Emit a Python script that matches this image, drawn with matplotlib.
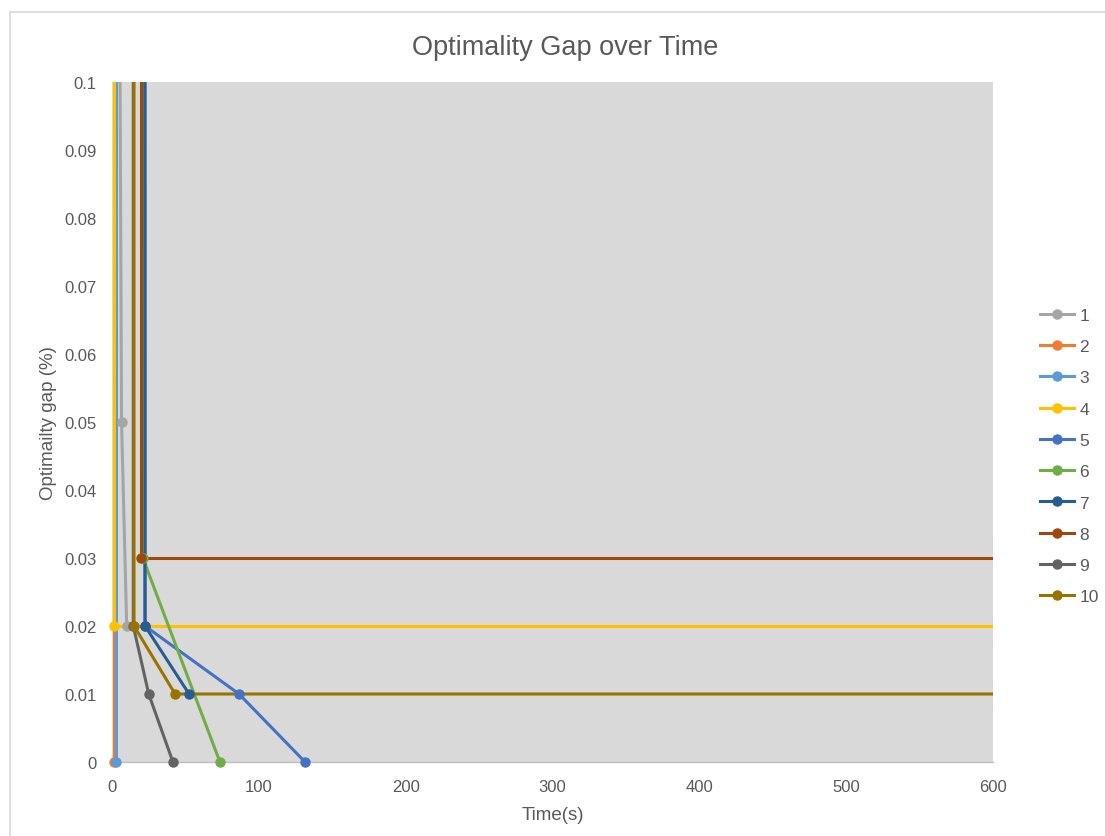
import matplotlib
matplotlib.use("Agg")
import matplotlib.pyplot as plt
from matplotlib.patches import Rectangle

plt.rcParams['font.family'] = ['Liberation Sans', 'DejaVu Sans']

# Solver runs: elapsed time (s) and optimality gap (%) at each improvement;
# runs that hit the 3600 s limit keep their last gap until then
labels = ["1", "2", "3", "4", "5", "6", "7", "8", "9", "10"]
times = [
    [4.5, 6.5, 10.0],
    [1.3, 1.3],
    [3.0, 3.0],
    [1.7, 1.7, 3600.0],
    [22.5, 22.5, 86.5, 131.5],
    [21.0, 21.0, 73.5],
    [21.0, 22.5, 52.5],
    [20.0, 20.0, 3600.0],
    [14.5, 14.5, 25.0, 41.5],
    [15.0, 15.0, 43.0, 3600.0],
]
gaps = [
    [0.15, 0.05, 0.02],
    [1.0, 0.0],
    [1.0, 0.0],
    [1.0, 0.02, 0.02],
    [1.0, 0.02, 0.01, 0.0],
    [1.0, 0.03, 0.0],
    [1.0, 0.02, 0.01],
    [1.0, 0.03, 0.03],
    [1.0, 0.02, 0.01, 0.0],
    [1.0, 0.02, 0.01, 0.01],
]
colors = ["#A5A5A5", "#ED7D31", "#5B9BD5", "#FFC000", "#4472C4",
          "#70AD47", "#255E91", "#9E480E", "#636363", "#997300"]

x_ticks = [0, 100, 200, 300, 400, 500, 600]
y_ticks = [0, 0.01, 0.02, 0.03, 0.04, 0.05, 0.06, 0.07, 0.08, 0.09, 0.1]
y_tick_labels = ["0", "0.01", "0.02", "0.03", "0.04", "0.05", "0.06",
                 "0.07", "0.08", "0.09", "0.1"]

X_MAX = 600
Y_MAX = 0.1
text_color = "#595959"

fig = plt.figure(figsize=(11.05, 8.37), dpi=100)
fig.patch.set_facecolor("white")

# Chart frame
fig.patches.append(Rectangle((10 / 1105, -0.1), 1.2, 1.1 - 13 / 837,
                             transform=fig.transFigure, fill=False,
                             edgecolor="#d9d9d9", linewidth=1.2))

ax = fig.add_axes([112 / 1105, 1 - 763 / 837, (993 - 112) / 1105, (763 - 83) / 837])
ax.set_facecolor("#d9d9d9")

handles = []
for lab, xs, ys, c in zip(labels, times, gaps, colors):
    ax.plot(xs, ys, color=c, linewidth=2.2, solid_capstyle="round", zorder=2)
    # markers are drawn whole even on the axis edge
    mx = [x for x, y in zip(xs, ys) if x <= X_MAX and y <= Y_MAX]
    my = [y for x, y in zip(xs, ys) if x <= X_MAX and y <= Y_MAX]
    ax.plot(mx, my, linestyle="none", marker="o", markersize=6.5,
            color=c, markeredgecolor=c, clip_on=False, zorder=3)
    h, = ax.plot([], [], color=c, linewidth=2.2, marker="o", markersize=6.5,
                 markeredgecolor=c, label=lab)
    handles.append(h)

ax.set_xlim(0, X_MAX)
ax.set_ylim(0, Y_MAX)
ax.set_xticks(x_ticks)
ax.set_xticklabels([str(t) for t in x_ticks])
ax.set_yticks(y_ticks)
ax.set_yticklabels(y_tick_labels)
ax.tick_params(axis="both", length=0, colors=text_color, labelsize=12)
ax.tick_params(axis="x", pad=12)
ax.tick_params(axis="y", pad=11)

for side in ["top", "right", "left"]:
    ax.spines[side].set_visible(False)
ax.spines["bottom"].set_color("#bfbfbf")
ax.spines["bottom"].set_linewidth(1.0)

ax.set_xlabel("Time(s)", color=text_color, fontsize=13.5, labelpad=9)
ax.set_ylabel("Optimailty gap (%)", color=text_color, fontsize=13.5, labelpad=5)

fig.text(565 / 1105, 1 - 48 / 837, "Optimality Gap over Time", ha="center",
         va="center", color=text_color, fontsize=19.5)

ax.legend(handles=handles, loc="center left", bbox_to_anchor=(1.045, 0.450),
          frameon=False, fontsize=12.5, labelcolor=text_color, handlelength=2.0,
          handletextpad=0.3, labelspacing=0.93, borderaxespad=0)

fig.savefig("out.png", dpi=100, facecolor="white")
